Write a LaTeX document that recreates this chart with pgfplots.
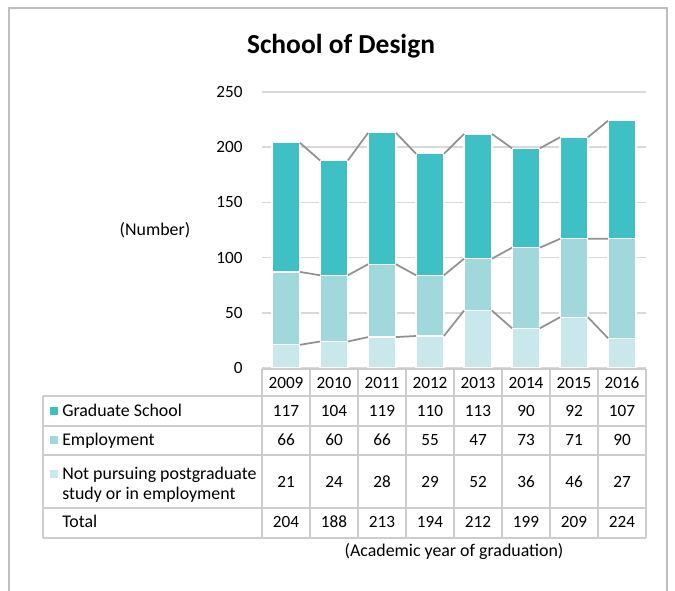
\documentclass[border=0pt]{standalone}
\usepackage{pgfplots}
\pgfplotsset{compat=1.18}
\usepackage{fontspec}
\setmainfont{Carlito}
\definecolor{cGrad}{RGB}{62,192,197}
\definecolor{cEmp}{RGB}{160,216,220}
\definecolor{cNot}{RGB}{200,232,236}
\definecolor{cGrid}{RGB}{217,217,217}
\definecolor{cSer}{RGB}{145,145,145}
\definecolor{cTab}{RGB}{205,205,205}
\definecolor{cFrame}{RGB}{190,190,190}
\newcommand{\tf}{\fontsize{13.4}{16}\selectfont}
\newcommand{\nf}{\fontsize{12.9}{16}\selectfont}
\pgfplotsset{
  common/.style={at={(196.5pt,-276pt)}, anchor=south west, scale only axis,
    width=288pt, height=207pt, xmin=-0.5, xmax=7.5, ymin=0, ymax=250},
}
\begin{document}
\begin{tikzpicture}
\useasboundingbox (0,0) rectangle (506.25pt,-443.25pt);
\begin{scope}[x=0.75pt,y=-0.75pt]
\draw[cFrame, line width=1pt] (9,591) -- (9,8) -- (667,8) -- (667,591);
\node[font=\fontsize{20.6}{24}\selectfont\bfseries, anchor=base] at (341,54) {School of Design};
\node[font=\tf, anchor=base] at (155,236) {(Number)};
\end{scope}

\begin{axis}[common,
  ytick={0,50,...,250}, xtick=\empty,
  ymajorgrids, grid style={cGrid, line width=1.3pt},
  axis line style={draw=none}, major tick length=0pt,
  yticklabel style={font=\nf, xshift=-11pt},
  /pgf/number format/assume math mode=true,
  ybar stacked, bar width=21pt, clip=false]
\addplot[fill=cNot, draw=white, line width=0.9pt] coordinates {(0,21)(1,24)(2,28)(3,29)(4,52)(5,36)(6,46)(7,27)};
\addplot[fill=cEmp, draw=white, line width=0.9pt] coordinates {(0,66)(1,60)(2,66)(3,55)(4,47)(5,73)(6,71)(7,90)};
\addplot[fill=cGrad, draw=white, line width=0.9pt] coordinates {(0,117)(1,104)(2,119)(3,110)(4,113)(5,90)(6,92)(7,107)};
\end{axis}

\begin{axis}[common, hide axis, unbounded coords=jump, clip=false]
\addplot[cSer, line width=1.3pt] coordinates {(0.29,21)(0.71,24)(1,nan)(1.29,24)(1.71,28)(2,nan)(2.29,28)(2.71,29)(3,nan)(3.29,29)(3.71,52)(4,nan)(4.29,52)(4.71,36)(5,nan)(5.29,36)(5.71,46)(6,nan)(6.29,46)(6.71,27)};
\addplot[cSer, line width=1.3pt] coordinates {(0.29,87)(0.71,84)(1,nan)(1.29,84)(1.71,94)(2,nan)(2.29,94)(2.71,84)(3,nan)(3.29,84)(3.71,99)(4,nan)(4.29,99)(4.71,109)(5,nan)(5.29,109)(5.71,117)(6,nan)(6.29,117)(6.71,117)};
\addplot[cSer, line width=1.3pt] coordinates {(0.29,204)(0.71,188)(1,nan)(1.29,188)(1.71,213)(2,nan)(2.29,213)(2.71,194)(3,nan)(3.29,194)(3.71,212)(4,nan)(4.29,212)(4.71,199)(5,nan)(5.29,199)(5.71,209)(6,nan)(6.29,209)(6.71,224)};
\end{axis}

\begin{scope}[x=0.75pt,y=-0.75pt]
\draw[cTab, line width=1.4pt] (262,369) -- (646,369);
\foreach \yy in {396,426,455,508,538} \draw[cTab, line width=1.4pt] (43,\yy) -- (646,\yy);
\draw[cTab, line width=1.4pt] (43,396) -- (43,538);
\foreach \xx in {262,310,...,646} \draw[cTab, line width=1.4pt] (\xx,369) -- (\xx,538);
\foreach \v [count=\i from 0] in {2009,2010,2011,2012,2013,2014,2015,2016}
  \node[font=\nf, anchor=base] at (286+48*\i,388.5) {\v};
\foreach \v [count=\i from 0] in {117,104,119,110,113,90,92,107}
  \node[font=\nf, anchor=base] at (286+48*\i,416.5) {\v};
\foreach \v [count=\i from 0] in {66,60,66,55,47,73,71,90}
  \node[font=\nf, anchor=base] at (286+48*\i,445.5) {\v};
\foreach \v [count=\i from 0] in {21,24,28,29,52,36,46,27}
  \node[font=\nf, anchor=base] at (286+48*\i,487.5) {\v};
\foreach \v [count=\i from 0] in {204,188,213,194,212,199,209,224}
  \node[font=\nf, anchor=base] at (286+48*\i,527.5) {\v};
\fill[cGrad] (50,407) rectangle (58,415);
\fill[cEmp] (50,436) rectangle (58,444);
\fill[cNot] (50,470) rectangle (58,478);
\node[font=\tf, anchor=base west, inner sep=0pt] at (62,416.5) {Graduate School};
\node[font=\tf, anchor=base west, inner sep=0pt] at (62,445.5) {Employment};
\node[font=\tf, anchor=base west, inner sep=0pt] at (62,479.5) {Not pursuing postgraduate};
\node[font=\tf, anchor=base west, inner sep=0pt] at (62,499.5) {study or in employment};
\node[font=\tf, anchor=base west, inner sep=0pt] at (62,527.5) {Total};
\node[font=\tf, anchor=base] at (454,556.5) {(Academic year of graduation)};
\end{scope}
\end{tikzpicture}
\end{document}
